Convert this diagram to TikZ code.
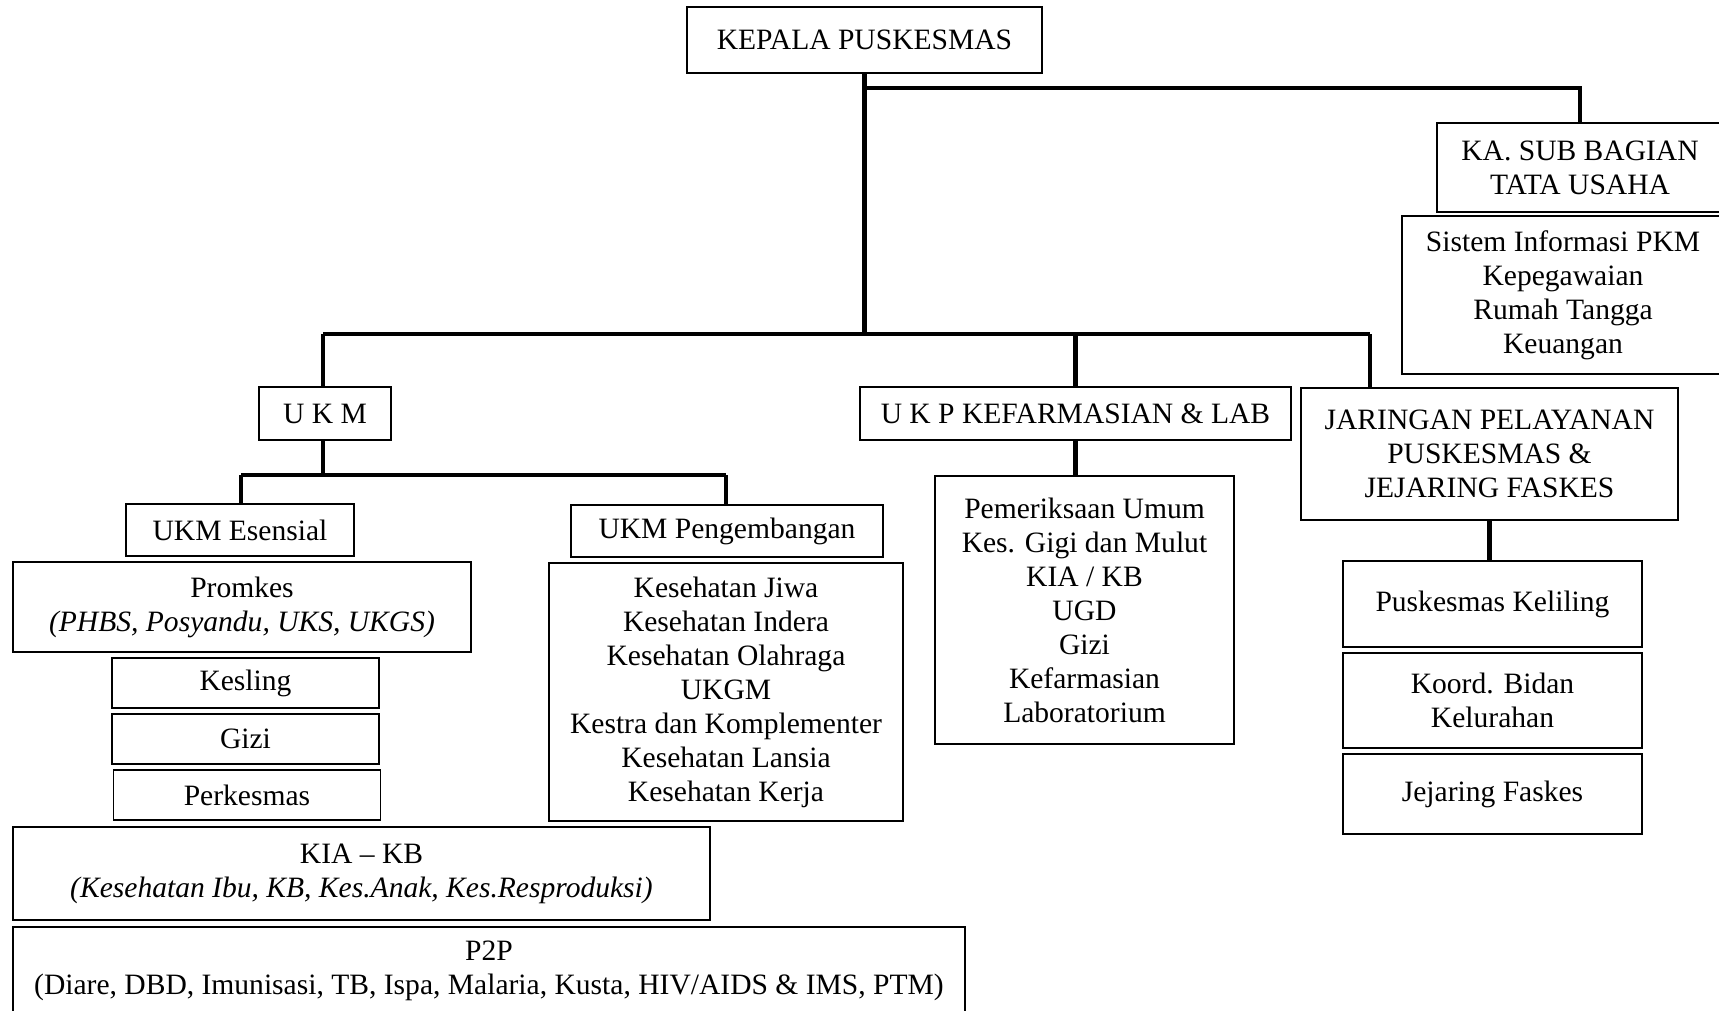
\documentclass[tikz,border=0pt]{standalone}
\usepackage{fontspec}
\setmainfont{Liberation Serif}
\usepackage{tikz}

\begin{document}
\begin{tikzpicture}[
  x=0.406pt,y=-0.406pt,line join=miter,
  box/.style={draw,rectangle,line width=0.8pt,inner sep=0pt,outer sep=0pt,align=center},
  conn/.style={line width=1.9pt}]
      \tikzstyle{every node}=[font=\fontsize{12pt}{13.8pt}\selectfont,text=black]
      \useasboundingbox (0,0) rectangle (1719,1011);

     \node [box,minimum width=144.1pt,minimum height=26.8pt] (a) at (864.5,40) {KEPALA PUSKESMAS};
     \node [box,minimum width=116.1pt,minimum height=36.1pt] (b) at (1580,167.5) {KA. SUB BAGIAN\\TATA USAHA};
     \node [box,minimum width=130.7pt,minimum height=64.1pt] (b1) at (1563,295)
	{Sistem Informasi PKM\\Kepegawaian\\Rumah Tangga\\Keuangan};

     \node [box,minimum width=53.6pt,minimum height=21.5pt] (c1) at (325,413.5) {U K M};
     \node [box,minimum width=175pt,minimum height=21.5pt] (c2) at (1075.5,413.5) {U K P KEFARMASIAN \& LAB};
     \node [box,minimum width=153.1pt,minimum height=53.6pt] (c3) at (1489.5,454)
	{JARINGAN PELAYANAN\\PUSKESMAS \&\\JEJARING FASKES};

     \node [box,minimum width=92.6pt,minimum height=21.1pt] (d1) at (240,530) {UKM Esensial};
     \node [box,minimum width=126.7pt,minimum height=21.1pt] (d2) at (727,531) {UKM Pengembangan};

     \node [box,minimum width=186pt,minimum height=36.5pt] (e1) at (242,607)
	{Promkes\\\textit{(PHBS, Posyandu, UKS, UKGS)}};
     \node [box,minimum width=108.4pt,minimum height=20.3pt] (e2) at (245.5,683) {Kesling};
     \node [box,minimum width=108.4pt,minimum height=20.3pt] (e3) at (245.5,739) {Gizi};
     \node [box,minimum width=108.4pt,minimum height=20.3pt] (e4) at (247,795) {Perkesmas};
     \node [box,minimum width=283pt,minimum height=37.8pt] (e5) at (361.5,873.5)
	{KIA -- KB\\\textit{(Kesehatan Ibu, KB, Kes.Anak, Kes.Resproduksi)}};
     \node [box,minimum width=386.5pt,minimum height=35.7pt] (e6) at (489,971)
	{P2P\\(Diare, DBD, Imunisasi, TB, Ispa, Malaria, Kusta, HIV/AIDS \& IMS, PTM)};

     \node [box,minimum width=143.7pt,minimum height=104.7pt] (f) at (726,692)
	{Kesehatan Jiwa\\Kesehatan Indera\\Kesehatan Olahraga\\UKGM\\Kestra dan Komplementer\\Kesehatan Lansia\\Kesehatan Kerja};

     \node [box,minimum width=121.4pt,minimum height=108.8pt] (g) at (1084.5,610)
	{Pemeriksaan Umum\\Kes. Gigi dan Mulut\\KIA / KB\\UGD\\Gizi\\Kefarmasian\\Laboratorium};

     \node [box,minimum width=121.4pt,minimum height=34.9pt] (h1) at (1492.5,604) {Puskesmas Keliling};
     \node [box,minimum width=121.4pt,minimum height=38.6pt] (h2) at (1492.5,700.5) {Koord. Bidan\\Kelurahan};
     \node [box,minimum width=121.4pt,minimum height=32.5pt] (h3) at (1492.5,794) {Jejaring Faskes};

     \coordinate (j0) at (864,88);
     \coordinate (j1) at (323,334);
     \coordinate (j2) at (1370,334);
     \coordinate (k1) at (241,475);
     \coordinate (k2) at (726,475);

     \draw [conn] (a) -- (a |- j1);
     \draw [conn] (j0) -| (b.north);
     \draw [conn] (j1) -- (j2);
     \draw [conn] (j1) -- (j1 |- c1.north);
     \draw [conn] (c2.north |- j1) -- (c2.north);
     \draw [conn] (j2) -- (j2 |- c3.north);
     \draw [conn] (c1.south -| j1) -- (j1 |- k1);
     \draw [conn] (k1) -- (k2);
     \draw [conn] (k1) -- (k1 |- d1.north);
     \draw [conn] (k2) -- (k2 |- d2.north);
     \draw [conn] (c2.south) -- (g.north -| c2.south);
     \draw [conn] (c3.south) -- (c3.south |- h1.north);

  \end{tikzpicture}
\end{document}
